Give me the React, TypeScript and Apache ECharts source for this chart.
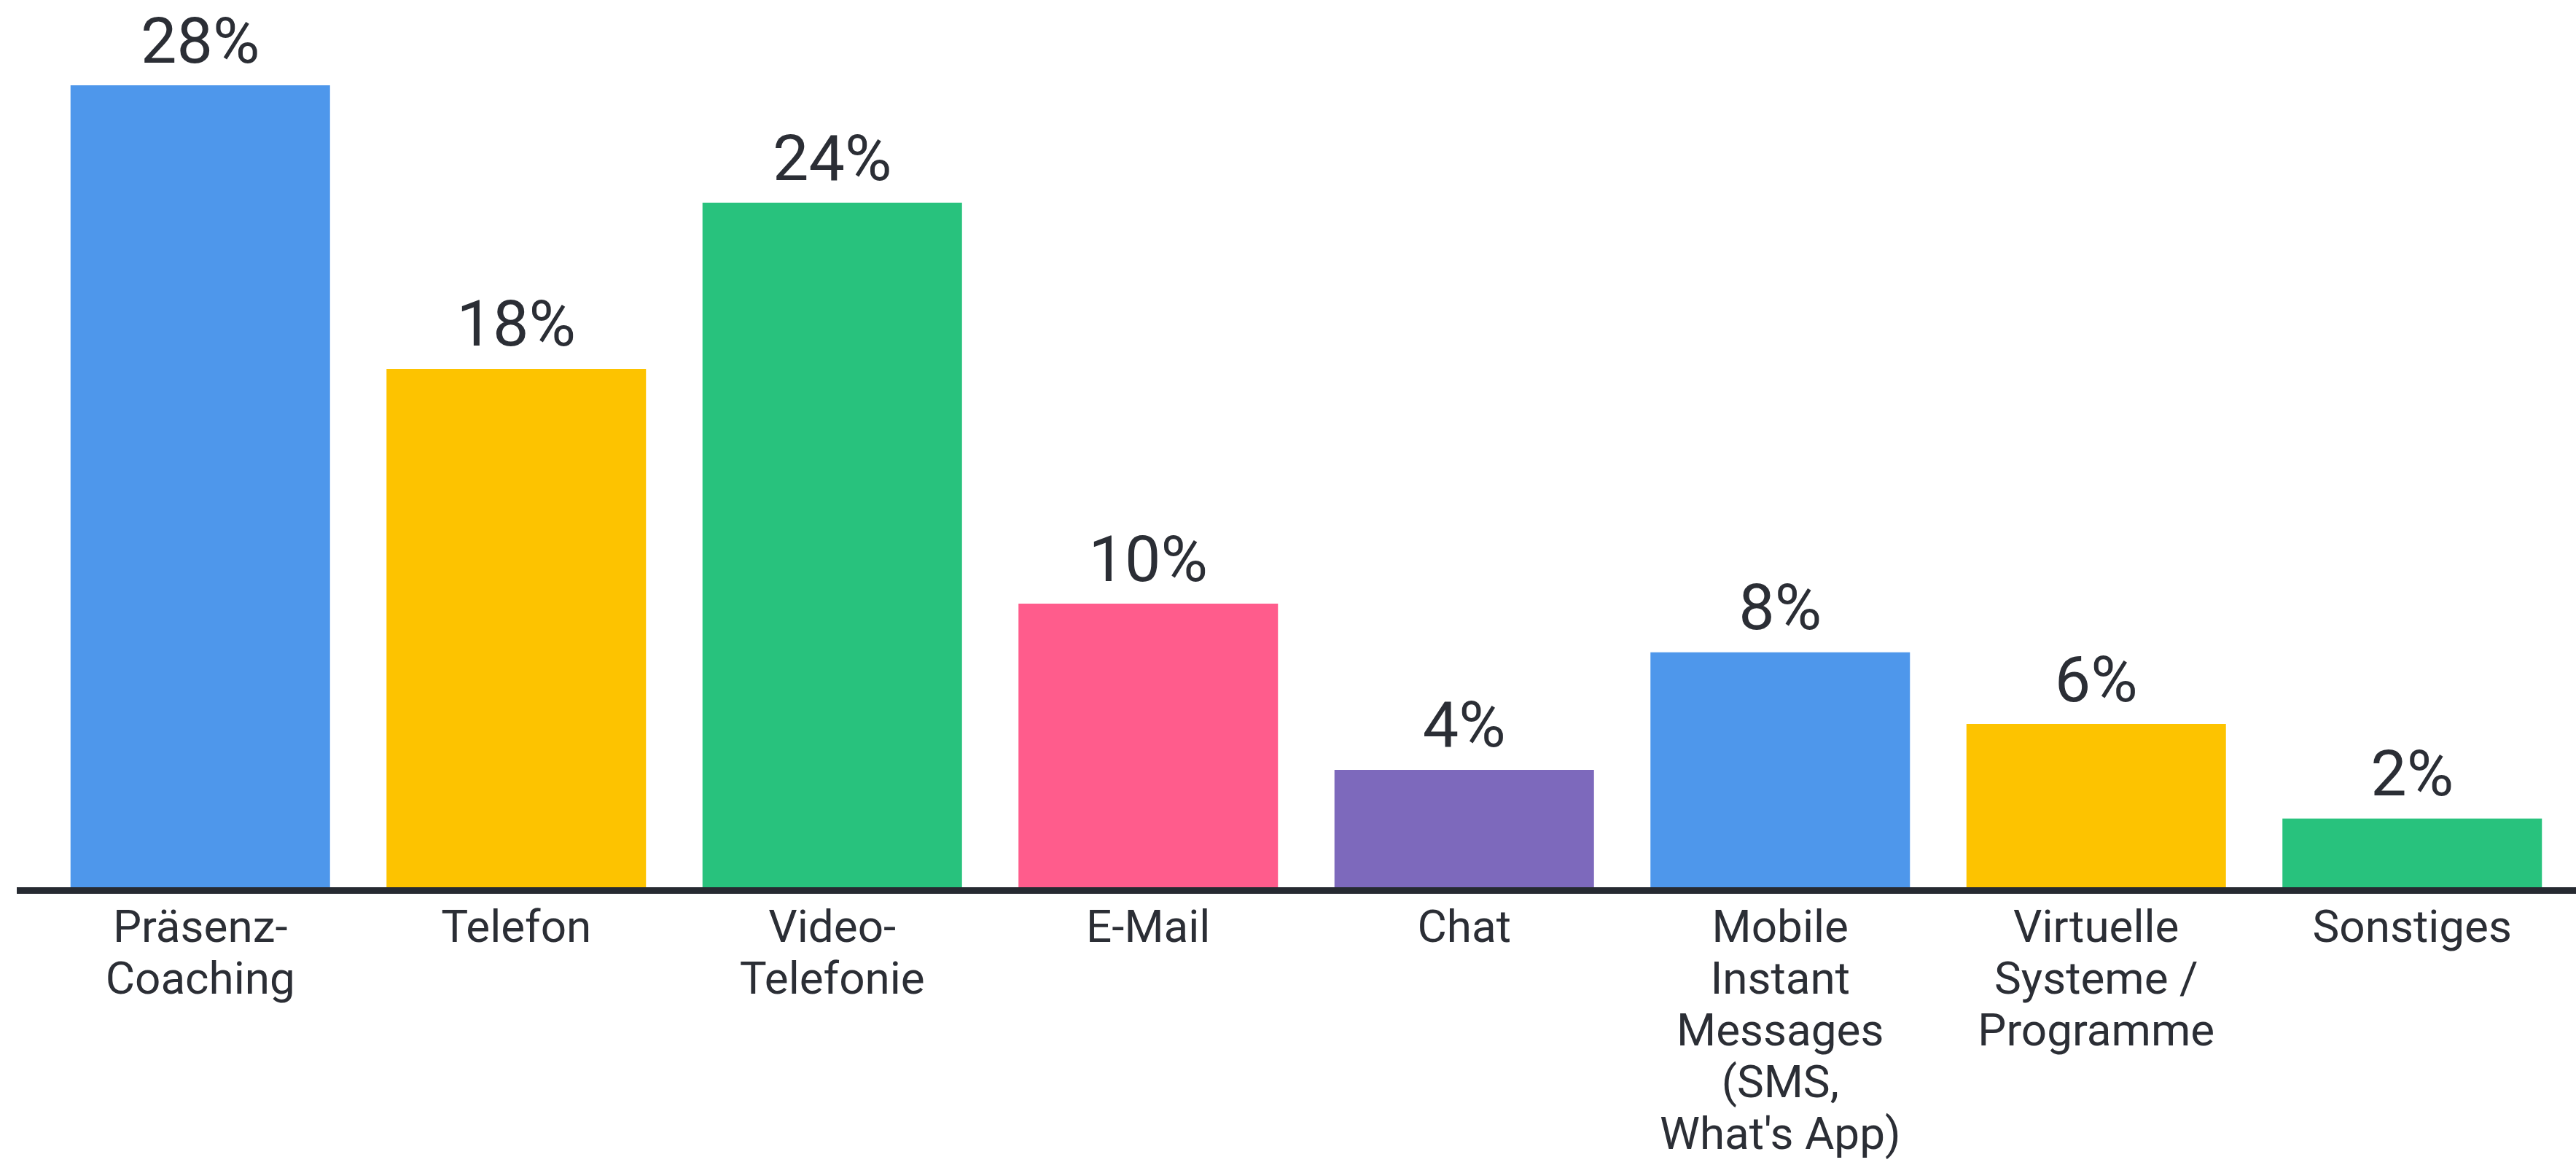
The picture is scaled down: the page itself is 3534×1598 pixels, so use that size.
import React, { useEffect, useRef } from "react";
import * as echarts from "echarts";

const categories = [
  "Präsenz-\nCoaching",
  "Telefon",
  "Video-\nTelefonie",
  "E-Mail",
  "Chat",
  "Mobile\nInstant\nMessages\n(SMS,\nWhat's App)",
  "Virtuelle\nSysteme /\nProgramme",
  "Sonstiges",
];
const values = [28, 18.1, 23.9, 9.9, 4.1, 8.2, 5.7, 2.4];
const barColors = ["#4E97EB", "#FDC300", "#28C27D", "#FF5C8C", "#7D69BC", "#4E97EB", "#FDC300", "#28C27D"];

const TEXT = "#2b2e35";
const FONT = "Roboto";

export default function App() {
  const ref = useRef<HTMLDivElement>(null);
  useEffect(() => {
    document.body.style.margin = "0";
    const chart = echarts.init(ref.current!, null, { renderer: "svg" });
    chart.setOption({
      animation: false,
      backgroundColor: "#ffffff",
      grid: { left: 58, right: 8, top: 117, bottom: 381, containLabel: false },
      xAxis: {
        type: "category",
        data: categories,
        axisLine: { show: false },
        axisTick: { show: false },
        axisLabel: {
          interval: 0,
          margin: 18,
          color: TEXT,
          fontFamily: FONT,
          fontSize: 62,
          lineHeight: 71,
        },
      },
      yAxis: {
        type: "value",
        min: 0,
        max: 28,
        show: false,
        splitLine: { show: false },
      },
      series: [
        {
          type: "bar",
          barWidth: 356,
          data: values.map((v, i) => ({ value: v, itemStyle: { color: barColors[i] } })),
          label: {
            show: true,
            position: "top",
            distance: 18,
            color: TEXT,
            fontFamily: FONT,
            fontSize: 88,
            lineHeight: 88,
            formatter: (p: any) => Math.round(p.value) + "%",
          },
        },
      ],
      graphic: [
        {
          type: "line",
          shape: { x1: 23, y1: 1221.5, x2: 3534, y2: 1221.5 },
          style: { stroke: "#262a31", lineWidth: 9 },
          z: 10,
        },
      ],
    });
    return () => chart.dispose();
  }, []);
  return <div ref={ref} style={{ position: "fixed", left: 0, top: 0, width: 3534, height: 1598 }} />;
}
